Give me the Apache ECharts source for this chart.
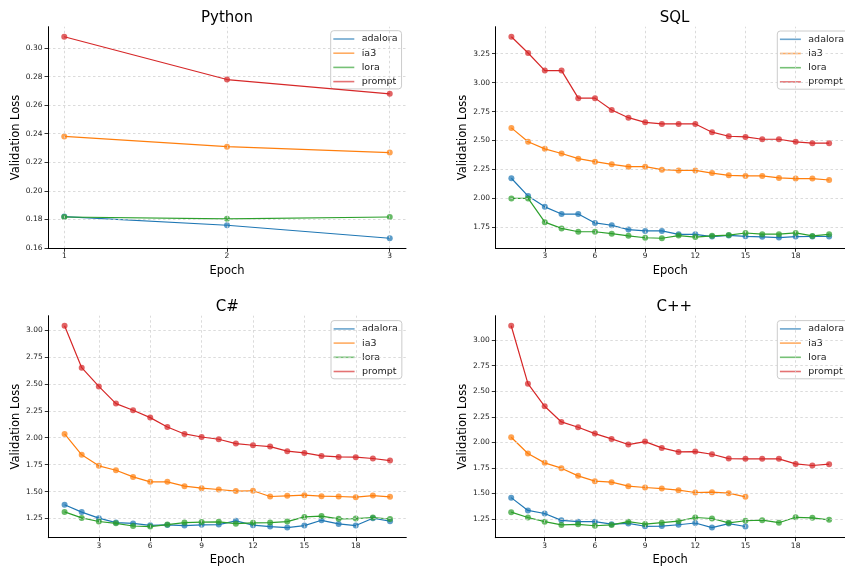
<!DOCTYPE html>
<html>
<head>
<meta charset="utf-8">
<script src="https://cdn.jsdelivr.net/npm/echarts@6/dist/echarts.min.js"></script>
<style>html,body{margin:0;padding:0;background:#fff}#c{width:845px;height:569px}</style>
</head>
<body>
<div id="c"></div>
<script>
// ---------- data ----------
const methods = ['adalora', 'ia3', 'lora', 'prompt'];

const epochsPy = [1, 2, 3];
const pyAdalora = [0.1819, 0.1758, 0.1667];
const pyIa3 = [0.2381, 0.2309, 0.2268];
const pyLora = [0.1816, 0.1803, 0.1816];
const pyPrompt = [0.3080, 0.2780, 0.2680];

const epochs20 = [1,2,3,4,5,6,7,8,9,10,11,12,13,14,15,16,17,18,19,20];

const sqlAdalora = [2.174, 2.020, 1.927, 1.865, 1.865, 1.788, 1.768, 1.731, 1.719, 1.719, 1.690, 1.690, 1.670, 1.680, 1.672, 1.668, 1.662, 1.670, 1.671, 1.671];
const sqlIa3 = [2.609, 2.489, 2.428, 2.388, 2.343, 2.317, 2.294, 2.274, 2.274, 2.248, 2.242, 2.242, 2.219, 2.199, 2.194, 2.194, 2.177, 2.171, 2.171, 2.159];
const sqlLora = [2.000, 2.000, 1.795, 1.741, 1.712, 1.712, 1.695, 1.677, 1.660, 1.656, 1.679, 1.666, 1.677, 1.683, 1.701, 1.691, 1.691, 1.702, 1.676, 1.690];
const sqlPrompt = [3.396, 3.256, 3.104, 3.104, 2.866, 2.866, 2.763, 2.697, 2.657, 2.643, 2.643, 2.643, 2.572, 2.537, 2.531, 2.511, 2.511, 2.489, 2.477, 2.477];

const csAdalora = [1.378, 1.309, 1.253, 1.212, 1.204, 1.186, 1.190, 1.184, 1.191, 1.193, 1.228, 1.188, 1.175, 1.165, 1.184, 1.233, 1.199, 1.184, 1.252, 1.225];
const csIa3 = [2.035, 1.841, 1.739, 1.698, 1.636, 1.590, 1.590, 1.550, 1.531, 1.519, 1.504, 1.507, 1.454, 1.460, 1.466, 1.457, 1.454, 1.448, 1.463, 1.451];
const csLora = [1.311, 1.255, 1.222, 1.205, 1.180, 1.175, 1.193, 1.212, 1.216, 1.219, 1.202, 1.209, 1.212, 1.221, 1.264, 1.272, 1.247, 1.249, 1.259, 1.245];
const csPrompt = [3.040, 2.651, 2.477, 2.317, 2.255, 2.187, 2.100, 2.035, 2.007, 1.986, 1.946, 1.930, 1.918, 1.875, 1.859, 1.831, 1.822, 1.819, 1.807, 1.788];

const cppAdalora = [1.460, 1.335, 1.305, 1.238, 1.225, 1.225, 1.201, 1.208, 1.180, 1.182, 1.195, 1.212, 1.167, 1.206, 1.178];
const cppIa3 = [2.050, 1.891, 1.800, 1.748, 1.673, 1.621, 1.611, 1.572, 1.559, 1.549, 1.533, 1.510, 1.513, 1.504, 1.468];
const cppLora = [1.318, 1.266, 1.225, 1.193, 1.199, 1.185, 1.193, 1.225, 1.202, 1.215, 1.230, 1.266, 1.256, 1.214, 1.234, 1.240, 1.215, 1.268, 1.263, 1.243];
const cppPrompt = [3.140, 2.574, 2.353, 2.200, 2.148, 2.086, 2.034, 1.979, 2.008, 1.946, 1.907, 1.910, 1.884, 1.842, 1.839, 1.839, 1.839, 1.790, 1.774, 1.787];

const pyXTicks = [1, 2, 3];
const longXTicks = [3, 6, 9, 12, 15, 18];
const pyYTicks = [0.16, 0.18, 0.20, 0.22, 0.24, 0.26, 0.28, 0.30];
const sqlYTicks = [1.75, 2.00, 2.25, 2.50, 2.75, 3.00, 3.25];
const cYTicks = [1.25, 1.50, 1.75, 2.00, 2.25, 2.50, 2.75, 3.00];

// ---------- layout / style ----------
const FONT = 'DejaVu Sans';
const colors = ['#1f77b4', '#ff7f0e', '#2ca02c', '#d62728'];

const panels = [
  { title: 'Python', epochs: epochsPy, vals: [pyAdalora, pyIa3, pyLora, pyPrompt], xTicks: pyXTicks, yTicks: pyYTicks,
    grid: { left: 48, top: 26.7, width: 358, height: 221.6 }, legend: { left: 330.7, top: 30.7 }, titleTop: 11 },
  { title: 'SQL', epochs: epochs20, vals: [sqlAdalora, sqlIa3, sqlLora, sqlPrompt], xTicks: longXTicks, yTicks: sqlYTicks,
    grid: { left: 495.5, top: 26.7, width: 358, height: 221.6 }, legend: { left: 777.3, top: 31 }, titleTop: 11 },
  { title: 'C#', epochs: epochs20, vals: [csAdalora, csIa3, csLora, csPrompt], xTicks: longXTicks, yTicks: cYTicks,
    grid: { left: 48.3, top: 315.7, width: 358, height: 222 }, legend: { left: 331, top: 320.6 }, titleTop: 300 },
  { title: 'C++', epochs: epochs20, vals: [cppAdalora, cppIa3, cppLora, cppPrompt], xTicks: longXTicks, yTicks: cYTicks,
    grid: { left: 495.3, top: 315.7, width: 358, height: 222 }, legend: { left: 777.3, top: 320.6 }, titleTop: 300 }
];

const grids = [], xAxes = [], yAxes = [], titles = [], legends = [], series = [];

panels.forEach((p, i) => {
  grids.push(Object.assign({ containLabel: false }, p.grid));

  const allX = p.epochs;
  const xmin0 = Math.min(...allX), xmax0 = Math.max(...allX);
  const xm = (xmax0 - xmin0) * 0.05;
  const allY = [].concat(...p.vals);
  const ymin0 = Math.min(...allY), ymax0 = Math.max(...allY);
  const ym = (ymax0 - ymin0) * 0.05;

  xAxes.push({
    type: 'value', gridIndex: i, min: xmin0 - xm, max: xmax0 + xm,
    name: 'Epoch', nameLocation: 'middle', nameGap: 16.5,
    nameTextStyle: { fontFamily: FONT, fontSize: 11.5, color: '#000' },
    axisLine: { show: true, onZero: false, lineStyle: { color: '#000', width: 1 } },
    axisTick: { show: true, length: 3.5, customValues: p.xTicks, lineStyle: { color: '#000', width: 0.8 } },
    axisLabel: { customValues: p.xTicks, fontFamily: FONT, fontSize: 7.5, color: '#222', margin: 4,
      formatter: v => String(v) },
    splitLine: { show: false }, z: 5
  });
  yAxes.push({
    type: 'value', gridIndex: i, min: ymin0 - ym, max: ymax0 + ym,
    name: 'Validation Loss', nameLocation: 'middle', nameGap: 25,
    nameTextStyle: { fontFamily: FONT, fontSize: 11.5, color: '#000' },
    axisLine: { show: true, onZero: false, lineStyle: { color: '#000', width: 1 } },
    axisTick: { show: true, length: 3.5, customValues: p.yTicks, lineStyle: { color: '#000', width: 0.8 } },
    axisLabel: { customValues: p.yTicks, fontFamily: FONT, fontSize: 7.5, color: '#222', margin: 5.5,
      formatter: v => v.toFixed(2) },
    splitLine: { show: false }, z: 5
  });

  titles.push({
    text: p.title, left: p.grid.left + p.grid.width / 2, top: p.titleTop, textAlign: 'center', padding: 0,
    textStyle: { fontFamily: FONT, fontSize: 15, fontWeight: 'normal', color: '#000' }
  });

  legends.push({
    data: methods, left: p.legend.left, top: p.legend.top, orient: 'vertical',
    icon: 'rect', itemWidth: 21, itemHeight: 1.6, itemGap: 3.2,
    padding: [2.8, 4, 1.8, 2.6],
    backgroundColor: 'rgba(255,255,255,0.8)', borderColor: '#cccccc', borderWidth: 1, borderRadius: 3,
    itemStyle: { opacity: 0.65 },
    textStyle: { fontFamily: FONT, fontSize: 9.5, color: '#222', lineHeight: 11, padding: [0, 0, 0, 2.4] },
    selectedMode: false
  });

  // dashed grid lines drawn via the axes' own scales
  series.push({
    type: 'line', xAxisIndex: i, yAxisIndex: i, data: [], silent: true, z: 0,
    markLine: {
      silent: true, symbol: ['none', 'none'], label: { show: false }, animation: false,
      lineStyle: { color: '#d2d2d2', width: 0.8, type: [2.5, 2.5] },
      emphasis: { disabled: true },
      data: p.xTicks.map(v => ({ xAxis: v })).concat(p.yTicks.map(v => ({ yAxis: v })))
    }
  });

  methods.forEach((m, k) => {
    const vals = p.vals[k];
    series.push({
      name: m, type: 'line', xAxisIndex: i, yAxisIndex: i, z: 2 + k,
      data: vals.map((v, j) => [p.epochs[j], v]),
      symbol: 'circle', symbolSize: 6, showSymbol: true, showAllSymbol: true,
      lineStyle: { color: colors[k], width: 1.2 },
      itemStyle: { color: colors[k], opacity: 0.72 },
      emphasis: { disabled: true },
      animation: false
    });
  });
});

const chart = echarts.init(document.getElementById('c'), null, { renderer: 'canvas' });
chart.setOption({
  animation: false,
  backgroundColor: '#ffffff',
  title: titles,
  legend: legends,
  grid: grids,
  xAxis: xAxes,
  yAxis: yAxes,
  series: series
});
</script>
</body>
</html>
